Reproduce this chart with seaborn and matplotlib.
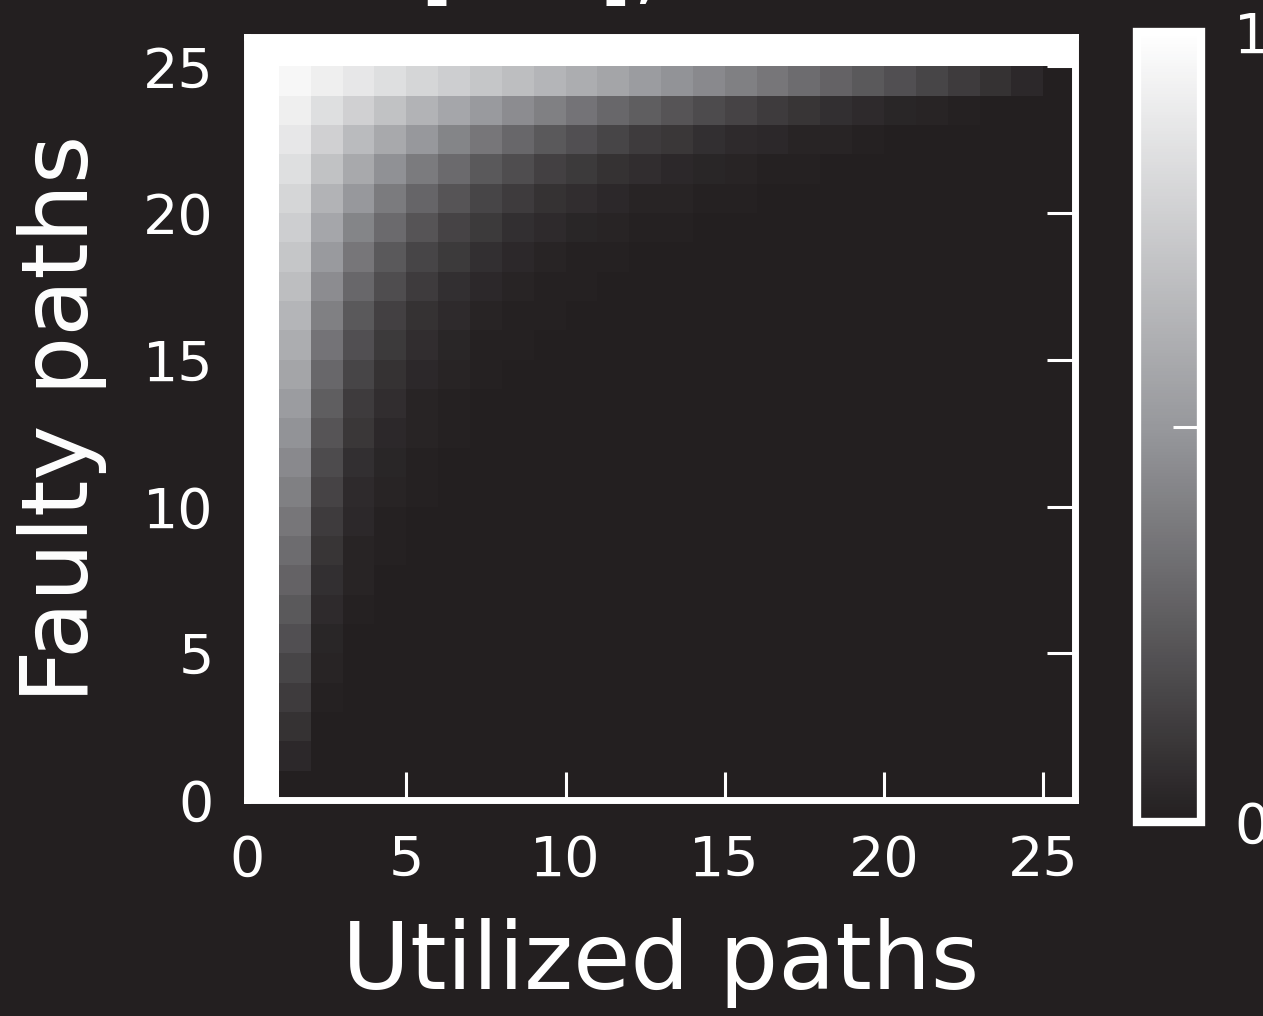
"""Fraction of faulty-only selections: utilized vs faulty paths heatmap (dark theme)."""

import numpy as np
import pandas as pd
import matplotlib
matplotlib.use("Agg")
import matplotlib.pyplot as plt
from matplotlib.colors import LinearSegmentedColormap
import seaborn as sns


BG = "#231f20"
FG = "white"

# x: utilized paths (0..25), y: faulty paths (0..25)
utilized_paths = list(range(26))
faulty_paths = list(range(26))
tick_values = [0, 5, 10, 15, 20, 25]
tick_labels = ["0", "5", "10", "15", "20", "25"]

# rows listed top (25 faulty) -> bottom (0 faulty)
fraction_rows = [
    [1, 1, 1, 1, 1, 1, 1, 1, 1, 1, 1, 1, 1, 1, 1, 1, 1, 1, 1, 1, 1, 1, 1, 1, 1, 1],
    [1, .96, .92, .88, .84, .80, .76, .72, .68, .64, .60, .56, .52, .48, .44, .40, .36, .32, .28, .24, .20, .16, .12, .08, .04, 0],
    [1, .92, .84, .77, .70, .63, .57, .51, .45, .40, .35, .30, .26, .22, .18, .15, .12, .09, .07, .05, .03, .02, .01, 0, 0, 0],
    [1, .88, .77, .67, .58, .50, .42, .36, .30, .24, .20, .16, .12, .10, .07, .05, .04, .02, .02, .01, 0, 0, 0, 0, 0, 0],
    [1, .84, .70, .58, .47, .38, .31, .24, .19, .14, .11, .08, .06, .04, .03, .02, .01, .01, 0, 0, 0, 0, 0, 0, 0, 0],
    [1, .80, .63, .50, .38, .29, .22, .16, .12, .08, .06, .04, .02, .02, .01, .01, 0, 0, 0, 0, 0, 0, 0, 0, 0, 0],
    [1, .76, .57, .42, .31, .22, .15, .11, .07, .05, .03, .02, .01, .01, 0, 0, 0, 0, 0, 0, 0, 0, 0, 0, 0, 0],
    [1, .72, .51, .36, .24, .16, .11, .07, .04, .02, .01, .01, 0, 0, 0, 0, 0, 0, 0, 0, 0, 0, 0, 0, 0, 0],
    [1, .68, .45, .30, .19, .12, .07, .04, .02, .01, .01, 0, 0, 0, 0, 0, 0, 0, 0, 0, 0, 0, 0, 0, 0, 0],
    [1, .64, .40, .24, .14, .08, .05, .02, .01, .01, 0, 0, 0, 0, 0, 0, 0, 0, 0, 0, 0, 0, 0, 0, 0, 0],
    [1, .60, .35, .20, .11, .06, .03, .01, .01, 0, 0, 0, 0, 0, 0, 0, 0, 0, 0, 0, 0, 0, 0, 0, 0, 0],
    [1, .56, .30, .16, .08, .04, .02, .01, 0, 0, 0, 0, 0, 0, 0, 0, 0, 0, 0, 0, 0, 0, 0, 0, 0, 0],
    [1, .52, .26, .12, .06, .02, .01, 0, 0, 0, 0, 0, 0, 0, 0, 0, 0, 0, 0, 0, 0, 0, 0, 0, 0, 0],
    [1, .48, .22, .10, .04, .02, .01, 0, 0, 0, 0, 0, 0, 0, 0, 0, 0, 0, 0, 0, 0, 0, 0, 0, 0, 0],
    [1, .44, .18, .07, .03, .01, 0, 0, 0, 0, 0, 0, 0, 0, 0, 0, 0, 0, 0, 0, 0, 0, 0, 0, 0, 0],
    [1, .40, .15, .05, .02, .01, 0, 0, 0, 0, 0, 0, 0, 0, 0, 0, 0, 0, 0, 0, 0, 0, 0, 0, 0, 0],
    [1, .36, .12, .04, .01, 0, 0, 0, 0, 0, 0, 0, 0, 0, 0, 0, 0, 0, 0, 0, 0, 0, 0, 0, 0, 0],
    [1, .32, .09, .02, .01, 0, 0, 0, 0, 0, 0, 0, 0, 0, 0, 0, 0, 0, 0, 0, 0, 0, 0, 0, 0, 0],
    [1, .28, .07, .02, 0, 0, 0, 0, 0, 0, 0, 0, 0, 0, 0, 0, 0, 0, 0, 0, 0, 0, 0, 0, 0, 0],
    [1, .24, .05, .01, 0, 0, 0, 0, 0, 0, 0, 0, 0, 0, 0, 0, 0, 0, 0, 0, 0, 0, 0, 0, 0, 0],
    [1, .20, .03, 0, 0, 0, 0, 0, 0, 0, 0, 0, 0, 0, 0, 0, 0, 0, 0, 0, 0, 0, 0, 0, 0, 0],
    [1, .16, .02, 0, 0, 0, 0, 0, 0, 0, 0, 0, 0, 0, 0, 0, 0, 0, 0, 0, 0, 0, 0, 0, 0, 0],
    [1, .12, .01, 0, 0, 0, 0, 0, 0, 0, 0, 0, 0, 0, 0, 0, 0, 0, 0, 0, 0, 0, 0, 0, 0, 0],
    [1, .08, 0, 0, 0, 0, 0, 0, 0, 0, 0, 0, 0, 0, 0, 0, 0, 0, 0, 0, 0, 0, 0, 0, 0, 0],
    [1, .04, 0, 0, 0, 0, 0, 0, 0, 0, 0, 0, 0, 0, 0, 0, 0, 0, 0, 0, 0, 0, 0, 0, 0, 0],
    [1, 0, 0, 0, 0, 0, 0, 0, 0, 0, 0, 0, 0, 0, 0, 0, 0, 0, 0, 0, 0, 0, 0, 0, 0, 0],
]

# bottom-up so that row index == faulty paths
df = pd.DataFrame(fraction_rows[::-1], index=faulty_paths, columns=utilized_paths)

cmap = LinearSegmentedColormap.from_list(
    "dark_gray", [(0.0, BG), (0.5, "#97989c"), (1.0, "#ffffff")])

fig = plt.figure(figsize=(12.63, 10.16), dpi=100, facecolor=BG)
ax = fig.add_axes([0.1956, 0.2126, 0.6556, 0.751])
cax = fig.add_axes([0.9002, 0.1909, 0.0507, 0.7776])

sns.heatmap(df, ax=ax, cbar_ax=cax, cmap=cmap, vmin=0, vmax=1,
            xticklabels=False, yticklabels=False, linewidths=0)
ax.set_xlim(0, 26)
ax.set_ylim(0, 26)
ax.set_facecolor(BG)

# ── Axes styling ──────────────────────────────────────────────
ax.set_xticks(tick_values)
ax.set_xticklabels(tick_labels)
ax.set_yticks(tick_values)
ax.set_yticklabels(tick_labels, rotation=0)
ax.tick_params(axis="both", direction="in", length=20, width=2.2,
               colors=FG, labelsize=40, pad=24,
               top=True, right=True, left=True, bottom=True)
for s in ax.spines.values():
    s.set_visible(True)
    s.set_color(FG)
    s.set_linewidth(5)

ax.set_xlabel("Utilized paths", fontsize=67, color=FG, labelpad=22)
ax.set_ylabel("Faulty paths", fontsize=67, color=FG, labelpad=26)

# ── Colorbar ──────────────────────────────────────────────────
cbar = ax.collections[0].colorbar
cbar.outline.set_visible(True)
cbar.outline.set_edgecolor(FG)
cbar.outline.set_linewidth(6)
cbar.set_ticks([0, 0.5, 1])
cbar.set_ticklabels(["0", "", "1"])
cax.tick_params(direction="in", length=20, width=2.2, colors=FG,
                labelsize=40, pad=24)

# title is clipped by the top edge in the original; only descenders show
fig.text(419 / 1263, 1 + 7 / 1016, "[0.5],", fontsize=65, color=FG,
         ha="left", va="baseline")

fig.savefig("out.png", dpi=100, facecolor=BG)
